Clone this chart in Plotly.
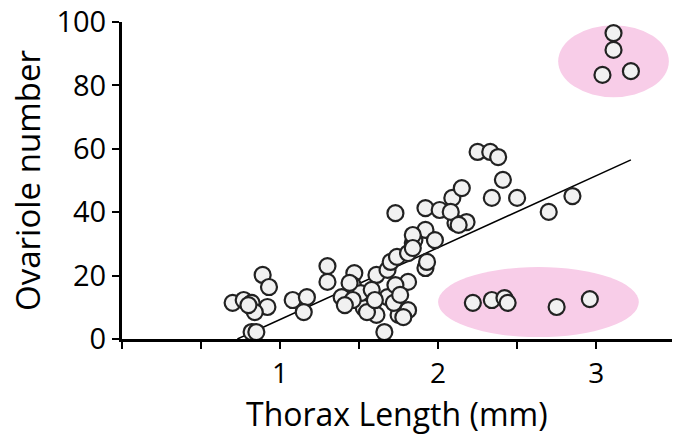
import plotly.graph_objects as go

# Thorax length (mm) and ovariole number
thorax_mm = [
    0.70, 0.77, 0.82, 0.89, 0.93, 0.92, 0.84, 0.82, 0.85, 0.80,
    1.08, 1.17, 1.15, 1.30, 1.30, 1.39, 1.47, 1.46, 1.52, 1.53,
    1.61, 1.68, 1.70, 1.74, 1.81, 1.84, 1.81, 1.68, 1.61, 1.55,
    1.75, 1.81, 1.66, 1.72, 1.51, 1.78, 1.44, 1.46, 1.58, 1.73,
    1.76, 1.41, 1.60, 1.73, 1.92, 2.01, 2.09, 2.11, 1.92, 1.98,
    1.85, 1.84, 1.84, 1.92, 1.93, 2.25, 2.33, 2.38, 2.41, 2.34,
    2.50, 2.15, 2.08, 2.18, 2.13, 2.70, 2.85,
    2.22, 2.34, 2.42, 2.44, 2.75, 2.96,
    3.11, 3.11, 3.04, 3.22,
]
ovarioles = [
    11.4, 12.3, 11.4, 20.2, 16.4, 10.1, 8.5, 2.2, 2.2, 10.7,
    12.3, 13.2, 8.5, 23.0, 18.0, 13.2, 20.8, 17.0, 13.9, 9.8,
    20.2, 21.8, 24.3, 25.9, 27.1, 30.3, 18.0, 13.2, 7.6, 8.5,
    7.6, 9.1, 2.2, 11.4, 14.5, 6.9, 17.7, 12.3, 15.5, 17.0,
    13.9, 10.7, 12.3, 39.7, 41.3, 40.7, 44.5, 36.6, 34.4, 31.2,
    31.2, 32.8, 28.7, 22.4, 24.3, 59.0, 59.0, 57.4, 50.2, 44.5,
    44.5, 47.6, 40.1, 36.9, 36.0, 40.1, 45.1,
    11.4, 12.3, 12.9, 11.4, 10.1, 12.6,
    96.5, 91.2, 83.3, 84.5,
]

# regression line end points (data units)
trend_x = [0.73, 3.22]
trend_y = [0.0, 56.5]

# highlighted groups (ellipse bounds in data units)
upper_group_x = [2.76, 3.46]
upper_group_y = [76.3, 99.0]
lower_group_x = [2.00, 3.27]
lower_group_y = [0.6, 22.7]

x_ticks = [0, 0.5, 1, 1.5, 2, 2.5, 3, 3.5]
x_tick_text = ["", "", "1", "", "2", "", "3", ""]
y_ticks = [0, 20, 40, 60, 80, 100]

FONT = "Open Sans"
PINK = "#F8CDE8"

fig = go.Figure()

fig.add_trace(go.Scatter(
    x=trend_x, y=trend_y, mode="lines",
    line=dict(color="black", width=1.5),
    hoverinfo="skip", cliponaxis=False,
))

fig.add_trace(go.Scatter(
    x=thorax_mm, y=ovarioles, mode="markers",
    marker=dict(size=16, color="#F1F1F1",
                line=dict(color="#222222", width=2.2)),
    cliponaxis=False,
))

for gx, gy in ((upper_group_x, upper_group_y), (lower_group_x, lower_group_y)):
    fig.add_shape(type="circle", xref="x", yref="y",
                  x0=gx[0], x1=gx[1], y0=gy[0], y1=gy[1],
                  fillcolor=PINK, line=dict(width=0), layer="below")

fig.update_layout(
    width=673, height=437, autosize=False,
    margin=dict(l=122, r=1, t=22, b=98),
    paper_bgcolor="white", plot_bgcolor="white",
    showlegend=False,
    font=dict(family=FONT, color="black"),
    xaxis=dict(
        range=[0, 3.48], tickvals=x_ticks, ticktext=x_tick_text,
        showgrid=False, zeroline=False,
        showline=True, linecolor="black", linewidth=3,
        ticks="outside", ticklen=7, tickwidth=2, tickcolor="black",
        tickfont=dict(size=28, family=FONT), automargin=False,
        ticklabeloverflow="allow",
    ),
    yaxis=dict(
        range=[0, 100], tickvals=y_ticks,
        showgrid=False, zeroline=False,
        showline=True, linecolor="black", linewidth=3,
        ticks="outside", ticklen=7, tickwidth=2, tickcolor="black",
        tickfont=dict(size=29, family=FONT), automargin=False,
        ticklabeloverflow="allow",
    ),
    annotations=[
        dict(text="Thorax Length (mm)", xref="paper", yref="paper",
             x=0.5, y=-0.235, xanchor="center", yanchor="middle",
             showarrow=False, font=dict(size=32, family=FONT)),
        dict(text="Ovariole number", xref="paper", yref="paper",
             x=-0.172, y=0.5, xanchor="center", yanchor="middle",
             textangle=-90, showarrow=False, font=dict(size=33, family=FONT)),
    ],
)

# remove the default page margin so the figure fills the window exactly
fig.write_html("out.html",
               config={"displayModeBar": False},
               post_script="document.body.style.margin='0';document.body.style.overflow='hidden';")
